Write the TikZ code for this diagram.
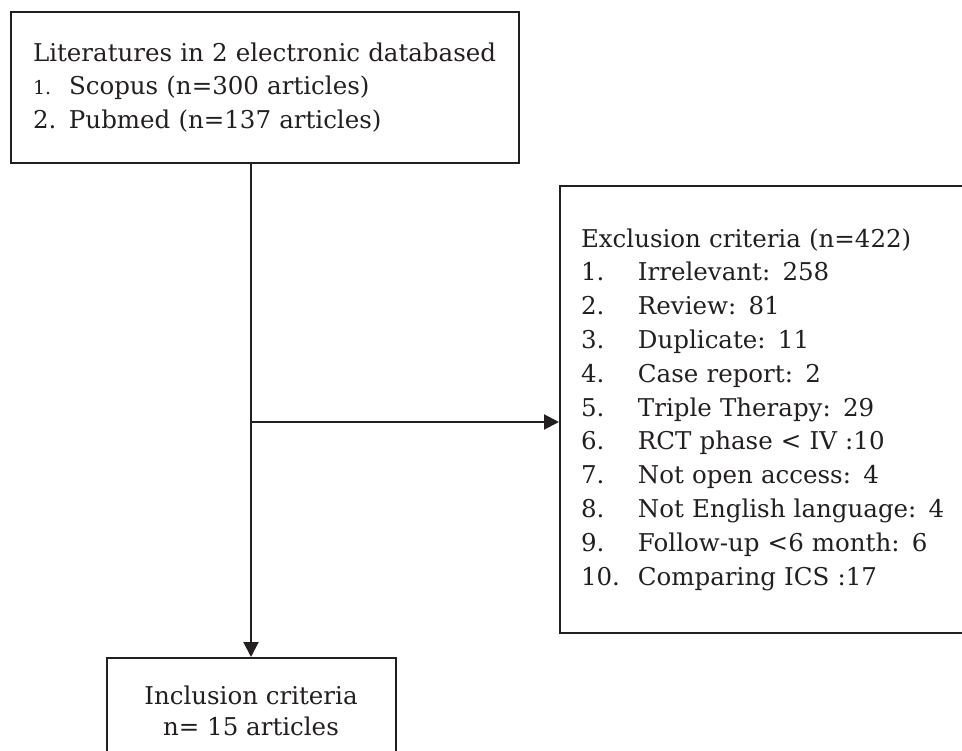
\documentclass[tikz,border=0pt]{standalone}
\usepackage{fontspec}
\setmainfont{DejaVu Serif}
\usetikzlibrary{arrows.meta,positioning}
\definecolor{ink}{HTML}{231F20}
\tikzset{
  box/.style={draw=ink,line width=2pt,text=ink,inner sep=0pt,
    font=\fontsize{24.5}{33.8}\selectfont},
}
\newcommand{\itm}[2][57pt]{\makebox[#1][l]{#2}}

\begin{document}
\begin{tikzpicture}[x=1pt,y=-1pt,>={Triangle[length=15pt,width=15pt]},line width=2pt]
      \clip (0,0) rectangle (962,751);
      \node[box,anchor=north west,minimum width=508pt,minimum height=151pt,
        text width=464pt,align=left] (lit) at (10,11)
        {Literatures in 2 electronic databased\\
         \itm[36pt]{\fontsize{19}{19}\selectfont 1.}Scopus (n=300 articles)\\
         \itm[36pt]{2.}Pubmed (n=137 articles)};
      \node[box,anchor=north west,minimum width=500pt,minimum height=447pt,
        text width=458pt,align=left] (excl) at (559,185)
        {Exclusion criteria (n=422)\\
         \itm{1.}Irrelevant: 258\\
         \itm{2.}Review: 81\\
         \itm{3.}Duplicate: 11\\
         \itm{4.}Case report: 2\\
         \itm{5.}Triple Therapy: 29\\
         \itm{6.}RCT phase < IV :10\\
         \itm{7.}Not open access: 4\\
         \itm{8.}Not English language: 4\\
         \itm{9.}Follow-up <6 month: 6\\
         \itm{10.}Comparing ICS :17};
      \node[box,anchor=north,minimum width=289pt,minimum height=106pt,
        align=center,font=\fontsize{24.5}{30.5}\selectfont] (incl) at (251,657)
        {Inclusion criteria\\ n= 15 articles};

      \coordinate (split) at (251,422);
      \draw[ink,->] (incl.north |- lit.south) -- (incl.north);
      \draw[ink,->] (split) -- (split -| excl.west);
    \end{tikzpicture}
\end{document}
